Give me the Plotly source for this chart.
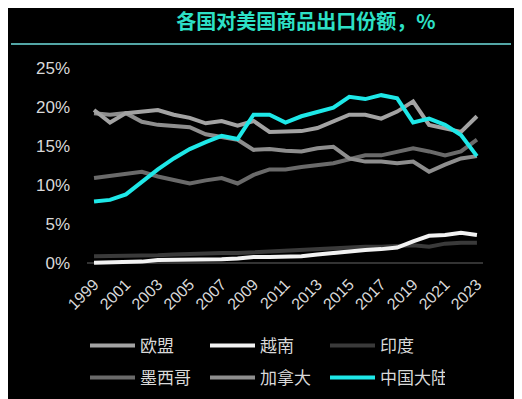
import plotly.graph_objects as go

years = list(range(1999, 2024))

eu = [19.6, 18.0, 19.2, 19.4, 19.6, 19.0, 18.6, 17.9, 18.2, 17.6, 18.2, 16.8, 16.8, 16.9, 17.3,
      18.1, 19.0, 19.0, 18.5, 19.4, 20.7, 17.7, 17.3, 16.8, 18.8]
vietnam = [0.05, 0.07, 0.1, 0.2, 0.4, 0.4, 0.4, 0.5, 0.5, 0.6, 0.8, 0.8, 0.8, 0.9, 1.1,
           1.3, 1.6, 1.7, 1.8, 2.0, 2.8, 3.5, 3.6, 3.9, 3.6]
india = [0.9, 0.9, 0.9, 1.0, 1.0, 1.1, 1.2, 1.2, 1.3, 1.3, 1.4, 1.5, 1.6, 1.8, 1.9,
         1.9, 2.0, 2.1, 2.1, 2.2, 2.3, 2.1, 2.5, 2.6, 2.6]
mexico = [10.9, 11.2, 11.5, 11.7, 11.1, 10.6, 10.2, 10.6, 10.9, 10.2, 11.3, 12.0, 12.0, 12.3, 12.6,
          12.8, 13.3, 13.8, 13.8, 14.3, 14.7, 14.3, 13.8, 14.3, 15.8]
canada = [19.2, 19.0, 19.2, 18.1, 17.7, 17.5, 17.4, 16.5, 16.2, 15.8, 14.5, 14.6, 14.4, 14.3, 14.7,
          14.9, 13.4, 13.0, 13.0, 12.8, 13.0, 11.7, 12.6, 13.4, 13.7]
china = [7.9, 8.1, 8.8, 10.4, 12.0, 13.4, 14.6, 15.5, 16.3, 15.9, 19.0, 19.0, 18.0, 18.8, 19.4,
         19.9, 21.3, 21.0, 21.5, 21.1, 18.0, 18.5, 17.7, 16.4, 13.7]

series_names = ["欧盟", "越南", "印度", "墨西哥", "加拿大", "中国大陆"]
series_values = [eu, vietnam, india, mexico, canada, china]
series_colors = ["#a3a3a3", "#f2f2f2", "#3a3a3a", "#6a6a6a", "#8e8e8e", "#1ee8e8"]
series_legend = ["legend", "legend", "legend", "legend2", "legend2", "legend2"]
draw_order = [2, 1, 3, 4, 0, 5]  # back to front

y_ticks = [0, 5, 10, 15, 20, 25]
y_tick_labels = ["0%", "5%", "10%", "15%", "20%", "25%"]
title_text = "各国对美国商品出口份额，%"

FONT = "Liberation Sans, Arial, Noto Sans CJK SC, sans-serif"

# The page has an 8px body margin, so the figure is 8px smaller and all pixel
# positions are shifted by -8 to land where the reference has them.
W, H = 514, 391

fig = go.Figure()
for i in draw_order:
    fig.add_trace(go.Scatter(
        x=years, y=series_values[i], name=series_names[i], mode="lines",
        line=dict(color=series_colors[i], width=4),
        legend=series_legend[i], legendrank=i + 1,
    ))

legend_common = dict(
    orientation="h", xref="container", yref="container", xanchor="left", yanchor="middle",
    font=dict(size=17, color="#d9d9d9", family=FONT),
    bgcolor="rgba(0,0,0,0)", entrywidth=60, entrywidthmode="pixels",
    itemwidth=45, traceorder="normal",
)

plot_h = H - 52 - 128
fig.update_layout(
    width=W, height=H,
    paper_bgcolor="#000000", plot_bgcolor="#000000",
    margin=dict(l=79, r=39, t=52, b=128, autoexpand=False),
    title=dict(text="<b>" + title_text + "</b>", x=298 / W, xanchor="center",
               y=1 - 14 / H, yanchor="middle",
               font=dict(size=20, color="#2de0c6", family="Noto Sans CJK SC")),
    xaxis=dict(range=[1998.56, 2023.38], tickmode="linear", tick0=1999, dtick=2,
               tickangle=-45, showgrid=False, zeroline=False, showline=False,
               ticks="", tickfont=dict(size=16, color="#d9d9d9", family=FONT)),
    yaxis=dict(range=[-1, 26], tickvals=y_ticks, ticktext=y_tick_labels,
               showgrid=False, zeroline=True, zerolinecolor="#333333", zerolinewidth=1.5,
               showline=False, ticks="", ticklabelstandoff=16,
               tickfont=dict(size=17, color="#d9d9d9", family=FONT)),
    legend=dict(x=77 / W, y=1 - 338 / H, **legend_common),
    legend2=dict(x=77 / W, y=1 - 370 / H, **legend_common),
    shapes=[dict(type="line", xref="paper", yref="paper",
                 x0=-76 / 396, x1=424 / 396, y0=(H - 128 - 36) / plot_h, y1=(H - 128 - 36) / plot_h,
                 line=dict(color="#6fdede", width=1.5))],
)

fig.write_html("out.html")
